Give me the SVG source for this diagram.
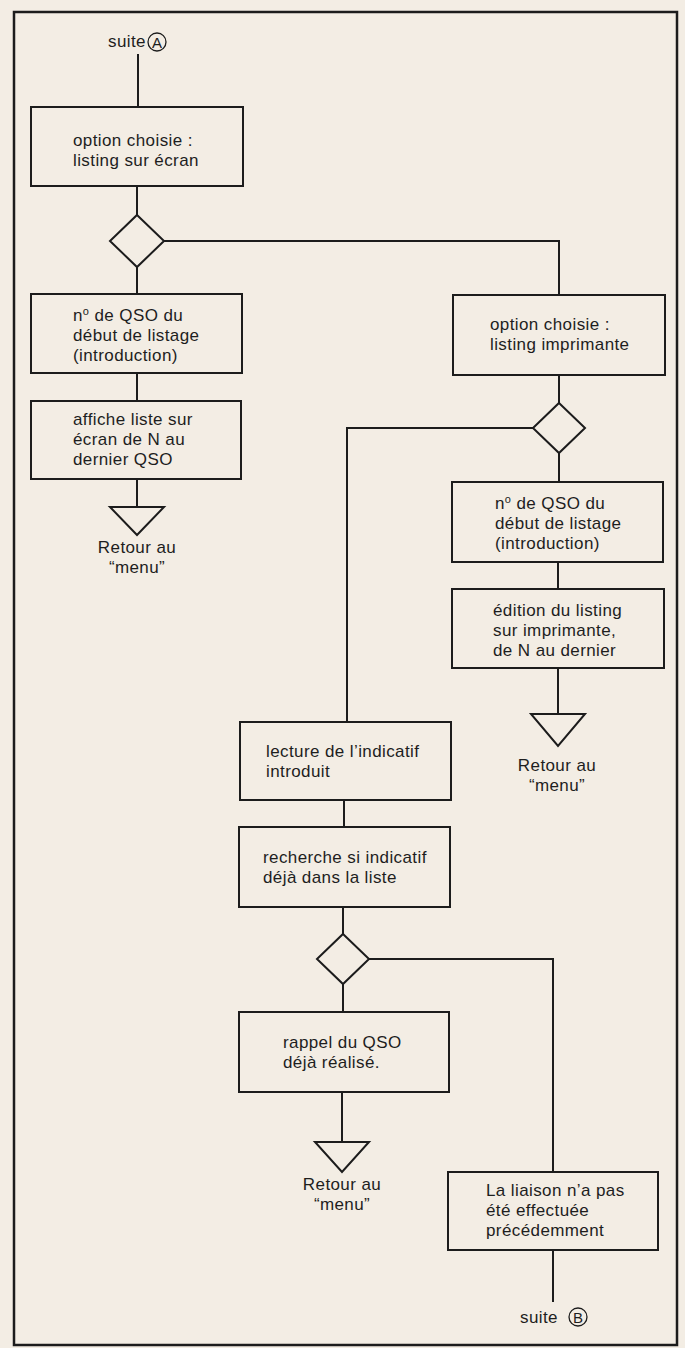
<svg xmlns="http://www.w3.org/2000/svg" width="685" height="1348" viewBox="0 0 685 1348">
<style>
.box{fill:none;stroke:#1c1c1c;stroke-width:2}
.ln{fill:none;stroke:#1c1c1c;stroke-width:2}
text{font-family:"Liberation Sans",Arial,sans-serif;font-size:17px;letter-spacing:0.4px;fill:#1e1e1e}
.c{text-anchor:middle}
.k{font-size:15px;letter-spacing:0}
</style>
<rect x="0" y="0" width="685" height="1348" fill="#f3ede4"/>
<rect x="14" y="12" width="663" height="1333" fill="none" stroke="#1c1c1c" stroke-width="2.5"/>
<g id="connectors">
<polyline class="ln" points="138,54 138,107"/>
<polyline class="ln" points="137,186 137,215"/>
<polyline class="ln" points="164,241 559,241 559,295"/>
<polyline class="ln" points="137,267 137,294"/>
<polyline class="ln" points="137,373 137,401"/>
<polyline class="ln" points="137,479 137,507"/>
<polyline class="ln" points="559,375 559,403"/>
<polyline class="ln" points="533,428 347,428 347,722"/>
<polyline class="ln" points="559,453 559,482"/>
<polyline class="ln" points="558,562 558,589"/>
<polyline class="ln" points="558,668 558,714"/>
<polyline class="ln" points="344,800 344,827"/>
<polyline class="ln" points="343,907 343,934"/>
<polyline class="ln" points="343,984 343,1012"/>
<polyline class="ln" points="369,959 553,959 553,1172"/>
<polyline class="ln" points="342,1092 342,1142"/>
<polyline class="ln" points="553,1250 553,1302"/>
</g>
<g id="suiteA">
<text x="108" y="47">suite</text>
<circle cx="157" cy="42" r="9" fill="none" stroke="#1c1c1c" stroke-width="1.3"/>
<text x="157" y="47.5" class="c k">A</text>
</g>
<g id="ecran">
<rect class="box" x="31" y="107" width="212" height="79"/>
<text x="73" y="146">option choisie :</text>
<text x="73" y="166">listing sur écran</text>
</g>
<g id="d1"><polygon class="box" points="137,215 164,241 137,267 110,241"/></g>
<g id="qso1">
<rect class="box" x="31" y="294" width="211" height="79"/>
<text x="73" y="321">n<tspan dy="-6" style="font-size:11px">o</tspan><tspan dy="6"> de QSO du</tspan></text>
<text x="73" y="341">début de listage</text>
<text x="73" y="361">(introduction)</text>
</g>
<g id="affiche">
<rect class="box" x="31" y="401" width="210" height="78"/>
<text x="73" y="425">affiche liste sur</text>
<text x="73" y="445">écran de N au</text>
<text x="73" y="465">dernier QSO</text>
</g>
<g id="retour1">
<polygon class="box" points="110,507 164,507 137,535"/>
<text x="137" y="553" class="c">Retour au</text>
<text x="137" y="573" class="c">“menu”</text>
</g>
<g id="imprimante">
<rect class="box" x="453" y="295" width="212" height="80"/>
<text x="490" y="330">option choisie :</text>
<text x="490" y="350">listing imprimante</text>
</g>
<g id="d2"><polygon class="box" points="559,403 585,428 559,453 533,428"/></g>
<g id="qso2">
<rect class="box" x="452" y="482" width="211" height="80"/>
<text x="495" y="509">n<tspan dy="-6" style="font-size:11px">o</tspan><tspan dy="6"> de QSO du</tspan></text>
<text x="495" y="529">début de listage</text>
<text x="495" y="549">(introduction)</text>
</g>
<g id="edition">
<rect class="box" x="452" y="589" width="212" height="79"/>
<text x="493" y="616">édition du listing</text>
<text x="493" y="636">sur imprimante,</text>
<text x="493" y="656">de N au dernier</text>
</g>
<g id="retour2">
<polygon class="box" points="531,714 585,714 558,746"/>
<text x="557" y="771" class="c">Retour au</text>
<text x="557" y="791" class="c">“menu”</text>
</g>
<g id="lecture">
<rect class="box" x="240" y="722" width="211" height="78"/>
<text x="266" y="757">lecture de l’indicatif</text>
<text x="266" y="777">introduit</text>
</g>
<g id="recherche">
<rect class="box" x="239" y="827" width="211" height="80"/>
<text x="263" y="863">recherche si indicatif</text>
<text x="263" y="883">déjà dans la liste</text>
</g>
<g id="d3"><polygon class="box" points="343,934 369,959 343,984 317,959"/></g>
<g id="rappel">
<rect class="box" x="239" y="1012" width="210" height="80"/>
<text x="283" y="1048">rappel du QSO</text>
<text x="283" y="1068">déjà réalisé.</text>
</g>
<g id="retour3">
<polygon class="box" points="315,1142 369,1142 342,1172"/>
<text x="342" y="1190" class="c">Retour au</text>
<text x="342" y="1210" class="c">“menu”</text>
</g>
<g id="liaison">
<rect class="box" x="448" y="1172" width="210" height="78"/>
<text x="486" y="1196">La liaison n’a pas</text>
<text x="486" y="1216">été effectuée</text>
<text x="486" y="1236">précédemment</text>
</g>
<g id="suiteB">
<text x="520" y="1323">suite</text>
<circle cx="578" cy="1317" r="9" fill="none" stroke="#1c1c1c" stroke-width="1.3"/>
<text x="578" y="1322.5" class="c k">B</text>
</g>
</svg>
